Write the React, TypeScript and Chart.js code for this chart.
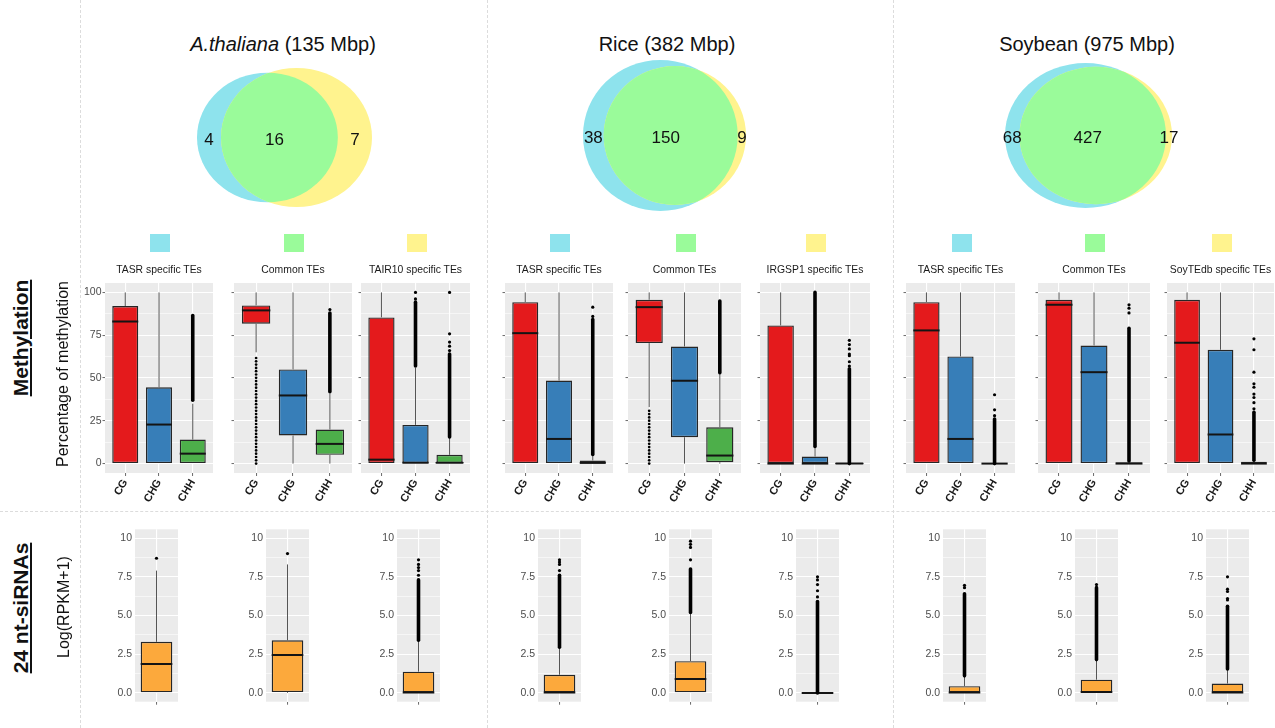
import React, { useEffect, useRef } from 'react';
import { Chart, registerables } from 'chart.js';

Chart.register(...registerables);

// ================= DATA =================
const speciesNames = ['A.thaliana', 'Rice', 'Soybean'];
const genomeSizes = ['(135 Mbp)', '(382 Mbp)', '(975 Mbp)'];
const tasrOnlyCounts = [4, 38, 68];
const commonCounts = [16, 150, 427];
const referenceOnlyCounts = [7, 9, 17];

const panelTitles = [
  'TASR specific TEs', 'Common TEs', 'TAIR10 specific TEs',
  'TASR specific TEs', 'Common TEs', 'IRGSP1 specific TEs',
  'TASR specific TEs', 'Common TEs', 'SoyTEdb specific TEs',
];
const contextLabels = ['CG', 'CHG', 'CHH'];
const methMajorTicks = [0, 25, 50, 75, 100];
const methMinorTicks = [12.5, 37.5, 62.5, 87.5];
const methTickLabels = ['0', '25', '50', '75', '100'];
const sirnaMajorTicks = [0, 2.5, 5, 7.5, 10];
const sirnaMinorTicks = [1.25, 3.75, 6.25, 8.75];
const sirnaTickLabels = ['0.0', '2.5', '5.0', '7.5', '10'];

// methylation box statistics: one row per panel, columns CG, CHG, CHH
const methQ1 = [
  [0, 0, 0], [81.7, 16.4, 5.1], [0, 0, 0],
  [0, 0, 0], [70.4, 15.4, 0.8], [0, 0, 0],
  [0, 0, 0], [0, 0, 0], [0, 0, 0],
];
const methMedian = [
  [83, 22.8, 5.8], [89.5, 39.8, 11.5], [2.3, 0.5, 0.5],
  [76.2, 14.4, 0.4], [91.4, 48.4, 4.7], [0, 0, 0],
  [77.8, 14.4, 0], [92.8, 53.4, 0], [70.6, 17, 0],
];
const methQ3 = [
  [92, 44.6, 14], [92.4, 55, 19.9], [85.4, 22.6, 5.1],
  [94.3, 48.5, 1.8], [95.7, 68.4, 21.2], [80.7, 4.1, 0],
  [94.3, 62.6, 0], [95.7, 69, 0.8], [95.7, 66.5, 1],
];
const methWhiskerLow = [
  [0, 0, 0], [65, 0, 0], [0, 0, 0],
  [0, 0, 0], [33, 0, 0], [0, 0, 0],
  [0, 0, 0], [0, 0, 0], [0, 0, 0],
];
const methWhiskerHigh = [
  [100, 100, 35], [100, 100, 41], [100, 56, 15],
  [100, 100, 5], [100, 100, 52], [100, 10, 0],
  [100, 100, 0], [100, 100, 1.5], [100, 100, 2],
];
const methOutlierFrom: (number | null)[][] = [
  [null, null, 37], [0, null, 42], [null, 57, 15.5],
  [null, null, 5.3], [0, null, 53], [null, 10, 0],
  [null, null, 0], [null, null, 1.5], [null, null, 2],
];
const methOutlierTo: (number | null)[][] = [
  [null, null, 86.5], [63.5, null, 88], [null, 94.3, 64],
  [null, null, 84.2], [32, null, 95], [null, 100, 55.4],
  [null, null, 26], [null, null, 79], [null, null, 30],
];
const methOutlierPoints: number[][][] = [
  [[], [], []], [[], [], [90]], [[], [96.2, 100], [66, 68.6, 71, 75.8, 100]],
  [[], [], [86, 91.4]], [[], [], []], [[], [], [57, 59.5, 63, 64, 67, 69.5, 72]],
  [[], [], [28, 31.4, 40.2]], [[], [], [88, 90.8, 92.8]],
  [[], [], [32, 35.6, 38.6, 40.6, 44.6, 46.6, 53.4, 66.5, 72.9]],
];

// 24 nt-siRNA box statistics: one value per panel
const sirnaQ1 = [0, 0.05, 0, 0, 0, 0, 0, 0, 0];
const sirnaMedian = [1.86, 2.44, 0.03, 0.02, 0.9, 0, 0.02, 0.05, 0.02];
const sirnaQ3 = [3.3, 3.4, 1.37, 1.17, 2.05, 0, 0.43, 0.85, 0.6];
const sirnaWhiskerLow = [0, 0, 0, 0, 0, 0, 0, 0, 0];
const sirnaWhiskerHigh = [7.9, 8.3, 3.35, 2.9, 5.1, 0, 1.07, 2.1, 1.5];
const sirnaOutlierFrom: (number | null)[] = [null, null, 3.4, 2.95, 5.2, 0, 1.1, 2.15, 1.55];
const sirnaOutlierTo: (number | null)[] = [null, null, 7.3, 7.6, 8.0, 5.9, 6.4, 6.8, 5.6];
const sirnaOutlierPoints: number[][] = [
  [8.7], [9.0], [7.6, 7.9, 8.1, 8.3, 8.6], [7.9, 8.3, 8.45, 8.6], [8.6, 9.4, 9.6, 9.8],
  [6.2, 6.6, 7.0, 7.3, 7.5], [6.8, 6.95], [7.0], [6.0, 6.1, 6.55, 6.7, 7.5],
];

// ================= STYLE / LAYOUT =================
const FONT = "'Liberation Sans', Arial, Helvetica, sans-serif";
Chart.defaults.font.family = FONT;

const CONTEXT_COLORS = ['#e41a1c', '#377eb8', '#4daf4a'];
const SIRNA_COLOR = '#fca93c';
const VENN_BLUE = '#8ee3ed';
const VENN_YELLOW = '#fff38e';
const VENN_GREEN = '#9afb9a';
const LEGEND_COLORS = [VENN_BLUE, VENN_GREEN, VENN_YELLOW];
const SPARSE_BANDS = ['1-0', '4-0'];

const METH_LEFT = [105, 234, 361, 505, 628, 760, 906, 1038, 1167];
const METH_RIGHT = [213, 352, 470, 613, 741, 870, 1015, 1150, 1274];
const METH_TOP = 283;
const METH_BOTTOM = 473;
const SIRNA_LEFT = [135, 266, 397, 538, 669, 796, 943, 1075, 1206];
const SIRNA_W = 43;
const SIRNA_TOP = 527.5;
const SIRNA_BOTTOM = 702.5;
const VENN_BOX = [
  { left: 197, top: 68, width: 175, height: 139 },
  { left: 583, top: 60, width: 163, height: 151 },
  { left: 1005, top: 63, width: 167, height: 145 },
];
const VENN_TITLE_X = [283, 667, 1087];
const VENN_PAD = 24;

type Box = { left: number; top: number; width: number; height: number };
type BoxStats = {
  q1: number[]; med: number[]; q3: number[]; wLo: number[]; wHi: number[];
  oFrom: (number | null)[]; oTo: (number | null)[]; pts: number[][]; sparse: boolean[];
};

const panelBgPlugin = {
  id: 'panelBg',
  beforeDraw(chart: any) {
    const { ctx, chartArea: a } = chart;
    ctx.save();
    ctx.fillStyle = '#ebebeb';
    ctx.fillRect(a.left, a.top, a.right - a.left, a.bottom - a.top);
    ctx.restore();
  },
};

function makeBoxPlugin(s: BoxStats) {
  return {
    id: 'boxWhiskers',
    beforeDatasetsDraw(chart: any) {
      const meta = chart.getDatasetMeta(0);
      const y = chart.scales.y;
      const ctx = chart.ctx;
      ctx.save();
      ctx.strokeStyle = '#555555';
      ctx.lineWidth = 1;
      meta.data.forEach((bar: any, i: number) => {
        const x = bar.x;
        ctx.beginPath();
        ctx.moveTo(x, y.getPixelForValue(s.wHi[i]));
        ctx.lineTo(x, y.getPixelForValue(s.q3[i]));
        ctx.moveTo(x, y.getPixelForValue(s.q1[i]));
        ctx.lineTo(x, y.getPixelForValue(s.wLo[i]));
        ctx.stroke();
      });
      ctx.restore();
    },
    afterDatasetsDraw(chart: any) {
      const meta = chart.getDatasetMeta(0);
      const y = chart.scales.y;
      const ctx = chart.ctx;
      ctx.save();
      meta.data.forEach((bar: any, i: number) => {
        const x = bar.x;
        const half = bar.width / 2;
        ctx.strokeStyle = '#141414';
        ctx.lineWidth = 2;
        ctx.beginPath();
        const my = y.getPixelForValue(s.med[i]);
        ctx.moveTo(x - half, my);
        ctx.lineTo(x + half, my);
        ctx.stroke();
        const f = s.oFrom[i];
        const t = s.oTo[i];
        ctx.fillStyle = '#000000';
        if (f !== null && t !== null) {
          const y0 = y.getPixelForValue(f);
          const y1 = y.getPixelForValue(t);
          if (s.sparse[i]) {
            for (let yy = y0; yy >= y1; yy -= 3.3) {
              ctx.beginPath();
              ctx.arc(x, yy, 1.35, 0, Math.PI * 2);
              ctx.fill();
            }
          } else {
            ctx.strokeStyle = '#000000';
            ctx.lineWidth = 3.6;
            ctx.lineCap = 'round';
            ctx.beginPath();
            ctx.moveTo(x, y0);
            ctx.lineTo(x, y1);
            ctx.stroke();
          }
        }
        s.pts[i].forEach((v) => {
          ctx.beginPath();
          ctx.arc(x, y.getPixelForValue(v), 1.6, 0, Math.PI * 2);
          ctx.fill();
        });
      });
      ctx.restore();
    },
  };
}

function buildBoxChart(p: {
  labels: string[]; colors: string[]; stats: BoxStats; yMin: number; yMax: number;
  majors: number[]; minors: number[]; majorLabels: string[] | null;
  axisW: number; axisH: number; barPct: number; rotate: number; yTickMarks: boolean;
}): any {
  const n = p.labels.length;
  const allTicks = [...p.majors, ...p.minors].sort((a, b) => a - b);
  const isMajor = (v: any) => typeof v === 'number' && p.majors.some((m) => Math.abs(m - v) < 1e-6);
  return {
    type: 'bar',
    data: {
      datasets: [{
        data: p.labels.map((_, i) => ({ x: i + 1, y: [p.stats.q1[i], p.stats.q3[i]] })),
        backgroundColor: p.colors,
        borderColor: '#262626',
        borderWidth: 1.4,
        borderSkipped: false,
        barPercentage: p.barPct,
        categoryPercentage: 1,
      }],
    },
    options: {
      animation: false,
      responsive: true,
      maintainAspectRatio: false,
      events: [],
      layout: { padding: { top: 8, right: 4, bottom: 0, left: 0 } },
      plugins: { legend: { display: false }, tooltip: { enabled: false }, title: { display: false } },
      scales: {
        x: {
          type: 'linear',
          offset: false,
          bounds: 'data',
          min: 0.4,
          max: n + 0.6,
          afterBuildTicks: (sc: any) => { sc.ticks = p.labels.map((_, i) => ({ value: i + 1 })); },
          afterFit: (sc: any) => { sc.height = p.axisH; },
          ticks: {
            autoSkip: false,
            maxRotation: p.rotate,
            minRotation: p.rotate,
            padding: 1,
            color: '#1a1a1a',
            font: { family: FONT, size: 11, weight: 'bold' },
            callback: (v: any) => p.labels[Math.round(v) - 1] ?? '',
          },
          grid: { offset: false, color: '#ffffff', lineWidth: 1.1, drawTicks: true, tickLength: 3, tickColor: '#444444', tickWidth: 0.8 },
          border: { display: false },
        },
        y: {
          type: 'linear',
          min: p.yMin,
          max: p.yMax,
          afterBuildTicks: (sc: any) => { sc.ticks = allTicks.map((v) => ({ value: v })); },
          afterFit: (sc: any) => { sc.width = p.axisW; },
          ticks: {
            autoSkip: false,
            padding: p.yTickMarks ? 1 : 3,
            color: '#4d4d4d',
            font: { family: FONT, size: 10.5 },
            callback: (v: any) => {
              if (!p.majorLabels) return '';
              const k = p.majors.findIndex((m) => Math.abs(m - v) < 1e-6);
              return k >= 0 ? p.majorLabels[k] : '';
            },
          },
          grid: {
            color: '#ffffff',
            lineWidth: (c: any) => (isMajor(c.tick?.value) ? 1.1 : 0.55),
            drawTicks: p.yTickMarks,
            tickLength: 2.5,
            tickColor: (c: any) => (isMajor(c.tick?.value) ? '#444444' : 'rgba(0,0,0,0)'),
            tickWidth: 0.8,
          },
          border: { display: false },
        },
      },
    },
    plugins: [panelBgPlugin, makeBoxPlugin(p.stats)],
  };
}

// ---- Venn geometry (area-proportional circles) ----
function lensArea(r1: number, r2: number, d: number) {
  if (d >= r1 + r2) return 0;
  if (d <= Math.abs(r1 - r2)) return Math.PI * Math.min(r1, r2) ** 2;
  const a = r1 * r1 * Math.acos((d * d + r1 * r1 - r2 * r2) / (2 * d * r1));
  const b = r2 * r2 * Math.acos((d * d + r2 * r2 - r1 * r1) / (2 * d * r2));
  const c = 0.5 * Math.sqrt((-d + r1 + r2) * (d + r1 - r2) * (d - r1 + r2) * (d + r1 + r2));
  return a + b - c;
}

function vennGeometry(k: number) {
  const a = tasrOnlyCounts[k] + commonCounts[k];
  const b = referenceOnlyCounts[k] + commonCounts[k];
  const rA = Math.sqrt(a / Math.PI);
  const rB = Math.sqrt(b / Math.PI);
  let lo = Math.abs(rA - rB);
  let hi = rA + rB;
  for (let i = 0; i < 80; i++) {
    const mid = (lo + hi) / 2;
    if (lensArea(rA, rB, mid) > commonCounts[k]) lo = mid; else hi = mid;
  }
  return { rA, rB, d: (lo + hi) / 2 };
}

function buildVenn(k: number): any {
  const g = vennGeometry(k);
  const R = Math.max(g.rA, g.rB);
  const plugin = {
    id: 'venn',
    afterDraw(chart: any) {
      const { ctx } = chart;
      const xs = chart.scales.x;
      const ys = chart.scales.y;
      const ux = xs.getPixelForValue(1) - xs.getPixelForValue(0);
      const uy = ys.getPixelForValue(0) - ys.getPixelForValue(1);
      const bx = xs.getPixelForValue(0);
      const yx = xs.getPixelForValue(g.d);
      const cy = ys.getPixelForValue(0);
      const blue = () => { ctx.beginPath(); ctx.ellipse(bx, cy, g.rA * ux, g.rA * uy, 0, 0, Math.PI * 2); };
      const yellow = () => { ctx.beginPath(); ctx.ellipse(yx, cy, g.rB * ux, g.rB * uy, 0, 0, Math.PI * 2); };
      ctx.save();
      blue(); ctx.fillStyle = VENN_BLUE; ctx.fill();
      yellow(); ctx.fillStyle = VENN_YELLOW; ctx.fill();
      blue(); ctx.clip();
      yellow(); ctx.fillStyle = VENN_GREEN; ctx.fill();
      ctx.restore();
      ctx.save();
      ctx.fillStyle = '#111111';
      ctx.font = `17px ${FONT}`;
      ctx.textAlign = 'center';
      ctx.textBaseline = 'middle';
      const ty = cy + 3;
      const lensMid = (g.d - g.rB + g.rA) / 2;
      ctx.fillText(String(tasrOnlyCounts[k]), xs.getPixelForValue((-g.rA + g.d - g.rB) / 2), ty);
      ctx.fillText(String(commonCounts[k]), xs.getPixelForValue(lensMid) - 5, ty);
      ctx.fillText(String(referenceOnlyCounts[k]), xs.getPixelForValue((g.rA + g.d + g.rB) / 2), ty);
      ctx.restore();
    },
  };
  return {
    type: 'scatter',
    data: { datasets: [{ data: [] }] },
    options: {
      animation: false,
      responsive: true,
      maintainAspectRatio: false,
      events: [],
      layout: { padding: VENN_PAD },
      plugins: { legend: { display: false }, tooltip: { enabled: false } },
      scales: {
        x: { type: 'linear', display: false, min: -g.rA, max: g.d + g.rB },
        y: { type: 'linear', display: false, min: -R, max: R },
      },
    },
    plugins: [plugin],
  };
}

function ChartHost({ box, build }: { box: Box; build: () => any }) {
  const ref = useRef<HTMLCanvasElement | null>(null);
  useEffect(() => {
    if (!ref.current) return;
    const chart = new Chart(ref.current, build());
    return () => chart.destroy();
  }, []);
  return (
    <div style={{ position: 'absolute', left: box.left, top: box.top, width: box.width, height: box.height }}>
      <canvas ref={ref} />
    </div>
  );
}

function VText({ cx, cy, text, style }: { cx: number; cy: number; text: string; style: React.CSSProperties }) {
  const w = 260;
  return (
    <div
      style={{
        position: 'absolute', left: cx - w / 2, top: cy - 13, width: w, height: 26, lineHeight: '26px',
        textAlign: 'center', transform: 'rotate(-90deg)', transformOrigin: '50% 50%', whiteSpace: 'nowrap',
        color: '#111', ...style,
      }}
    >
      {text}
    </div>
  );
}

function methStats(k: number): BoxStats {
  return {
    q1: methQ1[k], med: methMedian[k], q3: methQ3[k], wLo: methWhiskerLow[k], wHi: methWhiskerHigh[k],
    oFrom: methOutlierFrom[k], oTo: methOutlierTo[k], pts: methOutlierPoints[k],
    sparse: contextLabels.map((_, i) => SPARSE_BANDS.includes(`${k}-${i}`)),
  };
}

function sirnaStats(k: number): BoxStats {
  return {
    q1: [sirnaQ1[k]], med: [sirnaMedian[k]], q3: [sirnaQ3[k]], wLo: [sirnaWhiskerLow[k]], wHi: [sirnaWhiskerHigh[k]],
    oFrom: [sirnaOutlierFrom[k]], oTo: [sirnaOutlierTo[k]], pts: [sirnaOutlierPoints[k]], sparse: [false],
  };
}

export default function App() {
  const methAxisW = 30;
  const methAxisH = 36;
  const sirnaAxisW = 26;
  const sirnaAxisH = 8;
  const dash = '1px dashed #dcdcdc';
  return (
    <div
      style={{
        position: 'absolute', left: 0, top: 0, width: 1275, height: 728, overflow: 'hidden',
        background: '#ffffff', fontFamily: FONT,
      }}
    >
      {[80, 487, 893].map((x) => (
        <div key={x} style={{ position: 'absolute', left: x, top: 0, width: 0, height: 728, borderLeft: dash }} />
      ))}
      <div style={{ position: 'absolute', left: 0, top: 511, width: 1275, height: 0, borderTop: dash }} />

      {speciesNames.map((name, k) => (
        <div
          key={name}
          style={{
            position: 'absolute', left: VENN_TITLE_X[k] - 160, top: 32, width: 320, height: 24, lineHeight: '24px',
            textAlign: 'center', fontSize: 20, color: '#111', whiteSpace: 'nowrap',
          }}
        >
          {k === 0 ? <i>{name}</i> : name} {genomeSizes[k]}
        </div>
      ))}

      {VENN_BOX.map((b, k) => (
        <ChartHost
          key={`venn${k}`}
          box={{ left: b.left - VENN_PAD, top: b.top - VENN_PAD, width: b.width + 2 * VENN_PAD, height: b.height + 2 * VENN_PAD }}
          build={() => buildVenn(k)}
        />
      ))}

      {panelTitles.map((t, k) => {
        const cx = (METH_LEFT[k] + METH_RIGHT[k]) / 2;
        return (
          <React.Fragment key={`pt${k}`}>
            <div
              style={{
                position: 'absolute', left: cx - 9, top: 234, width: 20, height: 18,
                background: LEGEND_COLORS[k % 3],
              }}
            />
            <div
              style={{
                position: 'absolute', left: cx - 70, top: 263, width: 140, height: 14, lineHeight: '14px',
                textAlign: 'center', fontSize: 10.4, color: '#1a1a1a', whiteSpace: 'nowrap',
              }}
            >
              {t}
            </div>
          </React.Fragment>
        );
      })}

      {METH_LEFT.map((l, k) => (
        <ChartHost
          key={`meth${k}`}
          box={{
            left: l - methAxisW, top: METH_TOP - 8,
            width: methAxisW + (METH_RIGHT[k] - l) + 4, height: 8 + (METH_BOTTOM - METH_TOP) + methAxisH,
          }}
          build={() => buildBoxChart({
            labels: contextLabels, colors: CONTEXT_COLORS, stats: methStats(k), yMin: -5.5, yMax: 105.5,
            majors: methMajorTicks, minors: methMinorTicks, majorLabels: k === 0 ? methTickLabels : null,
            axisW: methAxisW, axisH: methAxisH, barPct: 0.77, rotate: 60, yTickMarks: true,
          })}
        />
      ))}

      {SIRNA_LEFT.map((l, k) => (
        <ChartHost
          key={`sirna${k}`}
          box={{
            left: l - sirnaAxisW, top: SIRNA_TOP - 8,
            width: sirnaAxisW + SIRNA_W + 4, height: 8 + (SIRNA_BOTTOM - SIRNA_TOP) + sirnaAxisH,
          }}
          build={() => buildBoxChart({
            labels: [''], colors: [SIRNA_COLOR], stats: sirnaStats(k), yMin: -0.57, yMax: 10.57,
            majors: sirnaMajorTicks, minors: sirnaMinorTicks, majorLabels: sirnaTickLabels,
            axisW: sirnaAxisW, axisH: sirnaAxisH, barPct: 0.735, rotate: 0, yTickMarks: false,
          })}
        />
      ))}

      <VText cx={21} cy={338} text="Methylation" style={{ fontSize: 21, fontWeight: 'bold', textDecoration: 'underline' }} />
      <VText cx={63} cy={374} text="Percentage of methylation" style={{ fontSize: 16 }} />
      <VText cx={21} cy={608} text="24 nt-siRNAs" style={{ fontSize: 21, fontWeight: 'bold', textDecoration: 'underline' }} />
      <VText cx={64} cy={607} text="Log(RPKM+1)" style={{ fontSize: 16 }} />
    </div>
  );
}
